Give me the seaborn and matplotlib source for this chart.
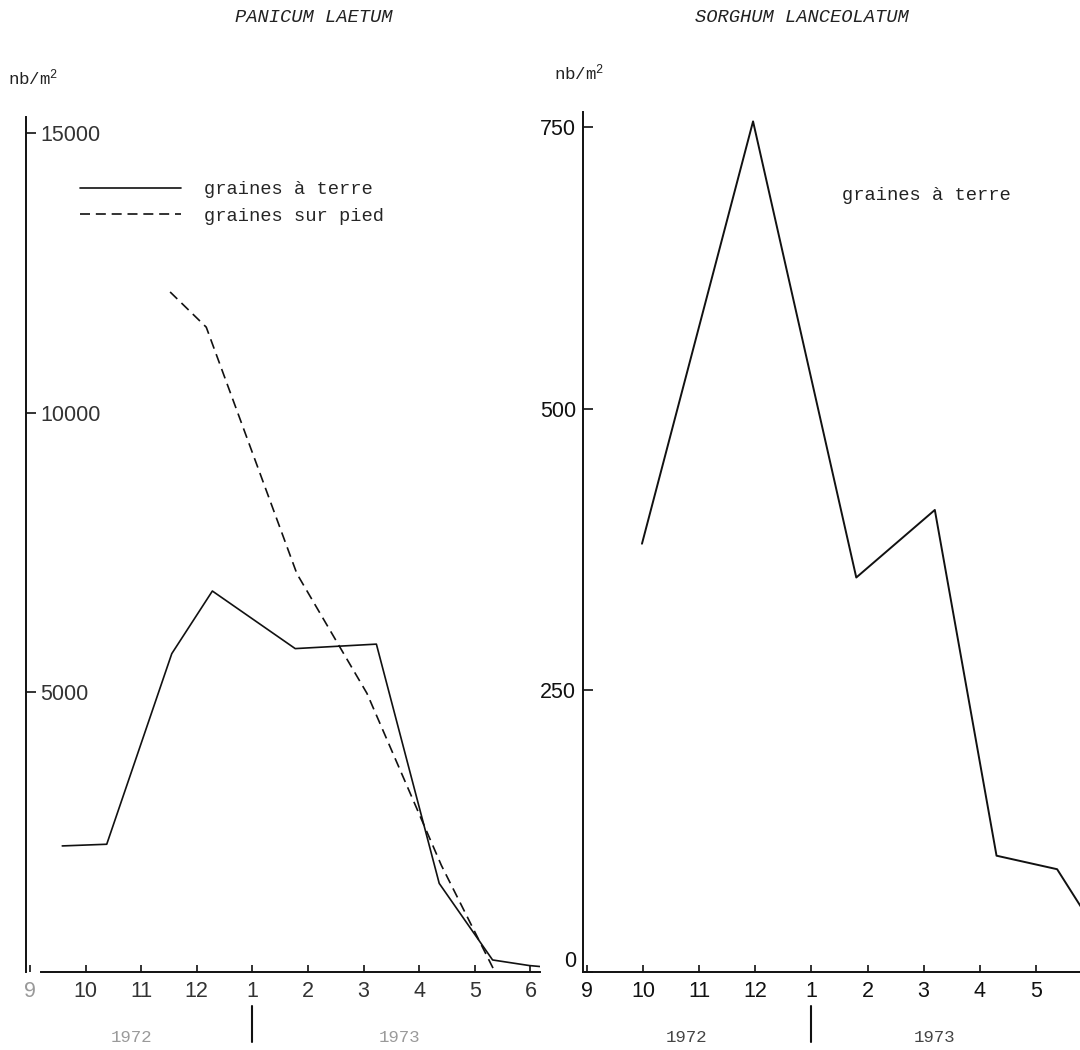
import numpy as np
import pandas as pd
import seaborn as sns
import matplotlib.pyplot as plt
import matplotlib.transforms as mtransforms

# months are counted from september 1972 (9) onwards: 13 = january 1973
months_left = ['9', '10', '11', '12', '1', '2', '3', '4', '5', '6']
months_right = ['9', '10', '11', '12', '1', '2', '3', '4', '5']

# Panicum laetum (nb/m2)
panicum_terre_t = [9.58, 10.38, 11.55, 12.28, 13.77, 15.23, 16.36, 17.32, 17.98, 18.2]
panicum_terre = [2250, 2280, 5690, 6810, 5780, 5860, 1580, 210, 110, 90]
panicum_pied_t = [11.52, 12.17, 13.80, 15.06, 16.4, 17.36]
panicum_pied = [12160, 11530, 7120, 4980, 1900, 0]

# Sorghum lanceolatum (nb/m2)
sorghum_t = [9.98, 11.96, 13.8, 15.2, 16.3, 17.38, 17.8]
sorghum_terre = [380, 755, 350, 410, 103, 91, 58]

panicum_yticks = [5000, 10000, 15000]
sorghum_yticks = [0, 250, 500, 750]

sns.set_style('ticks')
plt.rcParams['font.family'] = ['Liberation Sans', 'DejaVu Sans']
plt.rcParams['mathtext.default'] = 'regular'
mono = 'Liberation Mono'
ink = '#111111'

W, H = 1080, 1050
fig = plt.figure(figsize=(W / 100, H / 100), dpi=100)
y0 = 971.7
ax1 = fig.add_axes([26 / W, (H - y0) / H, (540 - 26) / W, (y0 - 117) / H])
ax2 = fig.add_axes([583 / W, (H - y0) / H, (W - 583) / W, (y0 - 111.7) / H])

# --- left panel
sns.lineplot(x=panicum_terre_t, y=panicum_terre, ax=ax1, color=ink, lw=1.2,
             sort=False, label='graines à terre')
sns.lineplot(x=panicum_pied_t, y=panicum_pied, ax=ax1, color=ink, lw=1.2,
             sort=False, label='graines sur pied', dashes=False)
ax1.lines[1].set_dashes((6, 3.5))
ax1.set_xlim(9 - 4 / 55.6, 9 + 510 / 55.6)
ax1.set_ylim(0, 15290)
ax1.spines['bottom'].set_bounds(9.2, 9 + 510 / 55.6)

# --- right panel
sns.lineplot(x=sorghum_t, y=sorghum_terre, ax=ax2, color=ink, lw=1.4, sort=False)
ax2.set_xlim(9 - 4 / 56.1, 9 + 493 / 56.1)
ax2.set_ylim(0, 763.6)

for ax, labels in [(ax1, months_left), (ax2, months_right)]:
    sns.despine(ax=ax, top=True, right=True)
    for s in ['left', 'bottom']:
        ax.spines[s].set_linewidth(1.4)
        ax.spines[s].set_color(ink)
    ax.set_xticks(np.arange(9, 9 + len(labels)), labels=labels)
    ax.tick_params(axis='x', direction='in', length=5, width=1.2, pad=7,
                   labelsize=15.5, colors=ink)
    ax.tick_params(axis='y', direction='in', length=7, width=1.2, labelsize=15.5,
                   colors=ink)
    ax.set_xlabel('')
    ax.set_ylabel('')

ax1.set_yticks(panicum_yticks, labels=[str(v) for v in panicum_yticks], ha='left')
ax1.tick_params(axis='y', pad=-10, labelcolor='#333333')
ax1.tick_params(axis='x', labelcolor='#333333')
ax1.get_xticklabels()[0].set_color('#999999')
ax2.set_yticks(sorghum_yticks, labels=[str(v) for v in sorghum_yticks])
ax2.tick_params(axis='y', pad=5)
ax2.get_yticklabels()[0].set_verticalalignment('bottom')

ax1.legend(loc='upper left', bbox_to_anchor=(80 / W, 1 - 181 / H),
           bbox_transform=fig.transFigure, frameon=False, prop={'family': mono, 'size': 13.5},
           handlelength=5.4, handletextpad=1.2, labelspacing=0.5,
           borderpad=0, borderaxespad=0)
ax2.text(842 / W, 1 - 196 / H, 'graines à terre', transform=fig.transFigure,
         family=mono, size=13.5, color='#222222', va='center')

# titles and units
fig.text(314 / W, 1 - 17 / H, 'PANICUM LAETUM', family=mono, style='italic',
         size=13.5, ha='center', va='center', color='#222222')
fig.text(802 / W, 1 - 17 / H, 'SORGHUM LANCEOLATUM', family=mono, style='italic',
         size=13.5, ha='center', va='center', color='#222222')
fig.text(8 / W, 1 - 85 / H, 'nb/m$^2$', family=mono, size=12.5, va='baseline', color='#222222')
fig.text(554 / W, 1 - 80 / H, 'nb/m$^2$', family=mono, size=12.5, va='baseline', color='#222222')

# years under the month axis
for ax, pos, col in [(ax1, [10.82, 15.65], '#9a9a9a'), (ax2, [10.77, 15.2], '#444444')]:
    tr = mtransforms.blended_transform_factory(ax.transData, fig.transFigure)
    for x, yr in zip(pos, ['1972', '1973']):
        ax.text(x, 1 - 1037 / H, yr, transform=tr, family=mono, size=12.5,
                ha='center', va='center', color=col)
    ax.plot([13, 13], [1 - 1006 / H, 1 - 1042 / H], transform=tr, color=ink,
            lw=1.5, clip_on=False)

fig.savefig('out.png', dpi=100, facecolor='white')
